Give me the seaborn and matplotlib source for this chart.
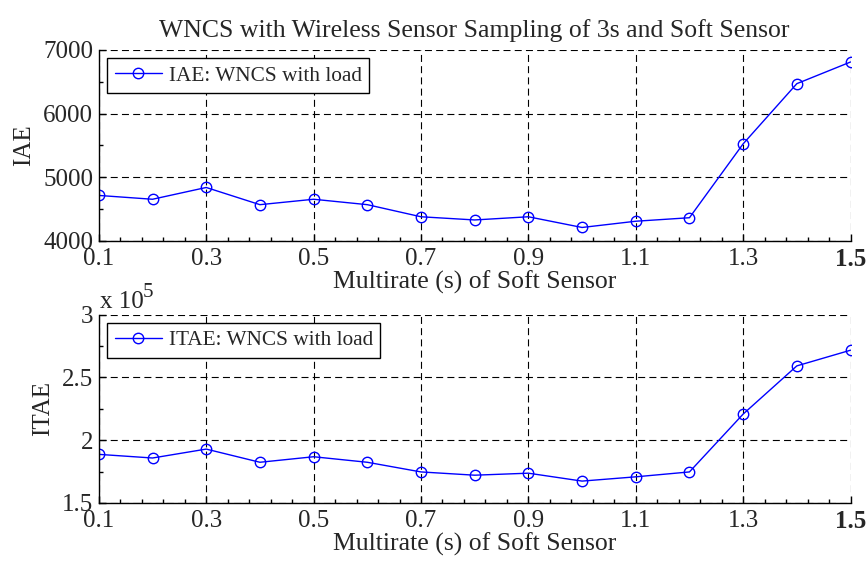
import matplotlib
matplotlib.use("Agg")
import matplotlib.pyplot as plt
import seaborn as sns
import pandas as pd
from matplotlib.ticker import AutoMinorLocator, FuncFormatter

# data
rate = [0.1, 0.2, 0.3, 0.4, 0.5, 0.6, 0.7, 0.8, 0.9, 1.0, 1.1, 1.2, 1.3, 1.4, 1.5]
iae = [4715, 4655, 4840, 4570, 4655, 4570, 4380, 4330, 4380, 4212, 4310, 4365, 5525, 6470, 6810]
itae = [188700, 185800, 192900, 182400, 186800, 182400, 174700, 172100, 173700,
        167400, 170800, 174700, 220800, 259200, 271700]

x_ticks = [0.1, 0.3, 0.5, 0.7, 0.9, 1.1, 1.3, 1.5]
iae_ticks = [4000, 5000, 6000, 7000]
itae_ticks = [150000, 200000, 250000, 300000]

df = pd.DataFrame({"rate": rate, "IAE": iae, "ITAE": itae})

sns.set_style("ticks")
plt.rcParams['font.family'] = ['Liberation Serif', 'DejaVu Serif']

fig = plt.figure(figsize=(8.67, 5.67), dpi=100)
ax1 = fig.add_axes([0.114, 0.575, 0.867, 0.337])
ax2 = fig.add_axes([0.114, 0.113, 0.867, 0.332])


def style_axis(ax, yticks, ylabel, ypad):
    ax.set_xlim(0.1, 1.5)
    ax.set_ylim(yticks[0], yticks[-1])
    ax.set_xticks(x_ticks)
    ax.set_yticks(yticks)
    ax.xaxis.set_minor_locator(AutoMinorLocator(5))
    ax.yaxis.set_minor_locator(AutoMinorLocator(2))
    ax.tick_params(which='both', direction='in', labelsize=18, width=1, color='black',
                   top=False, right=False)
    ax.tick_params(which='major', length=5)
    ax.tick_params(which='minor', length=3)
    ax.tick_params(axis='x', which='major', pad=5)
    ax.tick_params(axis='y', which='major', pad=4)
    ax.grid(True, which='major', linestyle=(0, (6.3, 3.8)), color='black', linewidth=0.8)
    for s in ['top', 'right']:
        ax.spines[s].set_visible(False)
    for s in ['left', 'bottom']:
        ax.spines[s].set_color('black')
        ax.spines[s].set_linewidth(1)
    ax.set_xlabel("Multirate (s) of Soft Sensor", fontsize=18.5, labelpad=0)
    ax.set_ylabel(ylabel, fontsize=18, labelpad=ypad)
    ax.xaxis.set_major_formatter(FuncFormatter(lambda v, p: f"{v:.1f}"))
    ax.get_xticklabels()[-1].set_fontweight('bold')


sns.lineplot(data=df, x="rate", y="IAE", ax=ax1, color='blue', lw=1, marker='o',
             markersize=7.5, markerfacecolor='none', markeredgecolor='blue',
             markeredgewidth=1, label="IAE: WNCS with load")
style_axis(ax1, iae_ticks, "IAE", 6)
ax1.set_title("WNCS with Wireless Sensor Sampling of 3s and Soft Sensor", fontsize=18.5, pad=9)

sns.lineplot(data=df, x="rate", y="ITAE", ax=ax2, color='blue', lw=1, marker='o',
             markersize=7.5, markerfacecolor='none', markeredgecolor='blue',
             markeredgewidth=1, label="ITAE: WNCS with load")
style_axis(ax2, itae_ticks, "ITAE", 6)
ax2.yaxis.set_major_formatter(FuncFormatter(lambda v, p: f"{v / 1e5:g}"))
# MATLAB-style exponent label above the axis
ax2.annotate("x 10", xy=(0, 1), xycoords='axes fraction', xytext=(1, 5),
             textcoords='offset points', fontsize=18, va='baseline')
ax2.annotate("5", xy=(0, 1), xycoords='axes fraction', xytext=(31.5, 13),
             textcoords='offset points', fontsize=15, va='baseline')

for ax in (ax1, ax2):
    leg = ax.legend(loc='upper left', fontsize=15.3, frameon=True, fancybox=False,
                    borderpad=0.35, handlelength=2.2, handletextpad=0.33,
                    borderaxespad=0.4)
    leg.get_frame().set_edgecolor('black')
    leg.get_frame().set_linewidth(1)
    leg.get_frame().set_alpha(1)

fig.savefig("out.png", dpi=100)
